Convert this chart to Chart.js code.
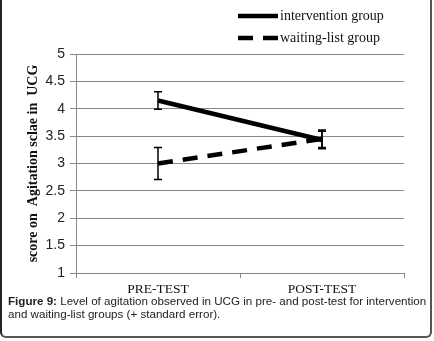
<!DOCTYPE html>
<html>
<head>
<meta charset="utf-8">
<script src="https://cdn.jsdelivr.net/npm/chart.js@4/dist/chart.umd.min.js"></script>
<style>
  html, body { margin: 0; padding: 0; background: #fff; }
  #wrap { position: relative; width: 434px; height: 341px; overflow: hidden; }
  #frame {
    position: absolute; left: 0; top: -10px; width: 428px; height: 346px;
    border-left: 2px solid #222; border-right: 2px solid #555; border-bottom: 2px solid #555;
    border-radius: 0 0 6px 6px; pointer-events: none;
  }
  #chartBox { position: absolute; left: 0; top: 0; width: 434px; height: 300px; }
  #caption {
    position: absolute; left: 8px; top: 294px; width: 422px;
    font-family: "Liberation Sans", Arial, sans-serif; font-size: 11.6px; line-height: 13px; color: #222;
  }
  #caption b { font-weight: bold; }
</style>
</head>
<body>
<div id="wrap">
  <div id="chartBox"><canvas id="chart"></canvas></div>
  <div id="caption"><b>Figure 9:</b> Level of agitation observed in UCG in pre- and post-test for intervention and waiting-list groups (+ standard error).</div>
  <div id="frame"></div>
</div>
<script>
const categories = ["PRE-TEST", "POST-TEST"];
const interventionValues = [4.15, 3.43];
const interventionErrors = [0.16, 0.16];
const waitingValues = [3.0, 3.45];
const waitingErrors = [0.29, 0.16];
const yTicks = [1, 1.5, 2, 2.5, 3, 3.5, 4, 4.5, 5];

// error bars drawn through the scales
const errorBars = {
  id: "errorBars",
  afterDatasetsDraw(chart) {
    const { ctx, scales } = chart;
    ctx.save();
    ctx.strokeStyle = "#000";
    ctx.lineWidth = 1.5;
    ctx.setLineDash([]);
    chart.data.datasets.forEach((ds) => {
      ds.data.forEach((v, i) => {
        const e = ds.errors[i];
        const x = scales.x.getPixelForValue(i);
        const yTop = scales.y.getPixelForValue(v + e);
        const yBot = scales.y.getPixelForValue(v - e);
        ctx.beginPath();
        ctx.moveTo(x, yTop); ctx.lineTo(x, yBot);
        ctx.moveTo(x - 4, yTop); ctx.lineTo(x + 4, yTop);
        ctx.moveTo(x - 4, yBot); ctx.lineTo(x + 4, yBot);
        ctx.stroke();
      });
    });
    ctx.restore();
  }
};

// legend stacked vertically at the top right
const stackedLegend = {
  id: "stackedLegend",
  afterDraw(chart) {
    const { ctx } = chart;
    ctx.save();
    ctx.font = "14px 'Liberation Serif', 'Times New Roman', serif";
    ctx.textBaseline = "middle";
    chart.data.datasets.forEach((ds, i) => {
      const y = 16 + i * 22;
      ctx.strokeStyle = "#000";
      ctx.lineWidth = 4.5;
      ctx.setLineDash(ds.borderDash || []);
      ctx.beginPath();
      ctx.moveTo(238, y); ctx.lineTo(278, y);
      ctx.stroke();
      ctx.fillStyle = "#111";
      ctx.fillText(ds.label, 280, y);
    });
    ctx.restore();
  }
};

new Chart(document.getElementById("chart"), {
  type: "line",
  data: {
    labels: categories,
    datasets: [
      {
        label: "intervention group",
        data: interventionValues,
        errors: interventionErrors,
        borderColor: "#000",
        borderWidth: 4.5,
        pointRadius: 0,
        tension: 0
      },
      {
        label: "waiting-list group",
        data: waitingValues,
        errors: waitingErrors,
        borderColor: "#000",
        borderWidth: 4.5,
        borderDash: [15, 10],
        pointRadius: 0,
        tension: 0
      }
    ]
  },
  options: {
    responsive: true,
    maintainAspectRatio: false,
    animation: false,
    layout: { padding: { left: 0, right: 30, top: 54, bottom: 0 } },
    plugins: {
      legend: { display: false },
      tooltip: { enabled: false }
    },
    scales: {
      x: {
        offset: true,
        grid: { offset: true, drawOnChartArea: false, drawTicks: true, tickLength: 5, color: "#888", lineWidth: 1 },
        border: { color: "#888", width: 1 },
        ticks: { color: "#111", padding: 3, font: { family: "'Liberation Serif', 'Times New Roman', serif", size: 13.5 } },
        afterFit(scale) { scale.height = 27; }
      },
      y: {
        min: 1,
        max: 5,
        afterBuildTicks(scale) { scale.ticks = yTicks.map((v) => ({ value: v })); },
        grid: { color: "#888", lineWidth: 1, tickLength: 6 },
        border: { color: "#888", width: 1 },
        ticks: {
          color: "#222",
          padding: 5,
          font: { family: "'Liberation Sans', Arial, sans-serif", size: 14 },
          callback: (v) => String(v)
        },
        title: {
          display: true,
          text: "score on  Agitation sclae in  UCG",
          color: "#111",
          padding: { top: 25, bottom: 0 },
          font: { family: "'Liberation Serif', 'Times New Roman', serif", size: 14, weight: "bold" }
        },
        afterFit(scale) { scale.width = 76; }
      }
    }
  },
  plugins: [errorBars, stackedLegend]
});
</script>
</body>
</html>
